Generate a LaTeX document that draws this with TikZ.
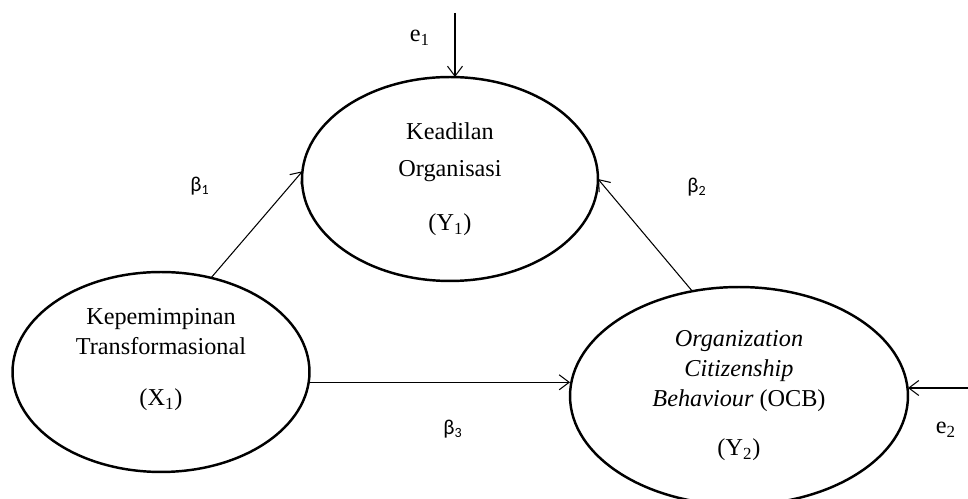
\documentclass[tikz,border=0pt]{standalone}
\usepackage{fontspec}
\setmainfont{Liberation Serif}
\newfontfamily\betafont{Carlito}
\usepackage{tikz}
\usetikzlibrary{arrows.meta,shapes.geometric,calc}
\tikzstyle{latentVar}=[draw,ellipse,line width=1.4pt,inner sep=0pt,outer sep=0pt,align=center,font=\fontsize{13.8}{17}\selectfont]
\tikzstyle{pathArrow}=[line width=0.6pt,-{Straight Barb[length=2mm,width=3mm]}]
\tikzstyle{coefLabel}=[font=\betafont\fontsize{12}{14}\selectfont]
\tikzstyle{errLabel}=[font=\fontsize{13.8}{15}\selectfont]

\begin{document}
\begin{tikzpicture}[x=0.02cm,y=-0.02cm]
    \useasboundingbox (0,0) rectangle (968,499);
    % latent variables
    \node [latentVar,minimum width=5.92cm,minimum height=4.08cm] (Y1) at (450,179)
      {Keadilan\\[4pt]Organisasi\\[14pt](Y\textsubscript{1})};
    \node [latentVar,minimum width=5.94cm,minimum height=4cm,text depth=0.6cm] (X1) at (161,372)
      {Kepemimpinan\\Transformasional\\[12pt](X\textsubscript{1})};
    \node [latentVar,minimum width=6.76cm,minimum height=4.36cm] (Y2) at (739,396)
      {\textit{Organization}\\\textit{Citizenship}\\\textit{Behaviour} (OCB)\\[11pt](Y\textsubscript{2})};
    % error terms
    \coordinate (e1end) at (455,13);
    \coordinate (e2end) at (968,388);
    \node [errLabel] (e1) at (420,38) {e\textsubscript{1}};
    \node [errLabel] (e2) at (946,430) {e\textsubscript{2}};
    \draw [pathArrow] (e1end) -- (e1end |- Y1.north);
    \draw [pathArrow] (e2end) -- (e2end -| Y2.east);
    % paths
    \draw [pathArrow] (X1.62) -- (Y1.177);
    \draw [pathArrow] (Y2.114) -- (Y1.0);
    \draw [pathArrow] (X1.-4) -- (X1.-4 -| Y2.west);
    \node [coefLabel] (b1) at (200,186) {β\textsubscript{1}};
    \node [coefLabel] (b2) at (697,187) {β\textsubscript{2}};
    \node [coefLabel] (b3) at (453,429) {β\textsubscript{3}};
\end{tikzpicture}
\end{document}
